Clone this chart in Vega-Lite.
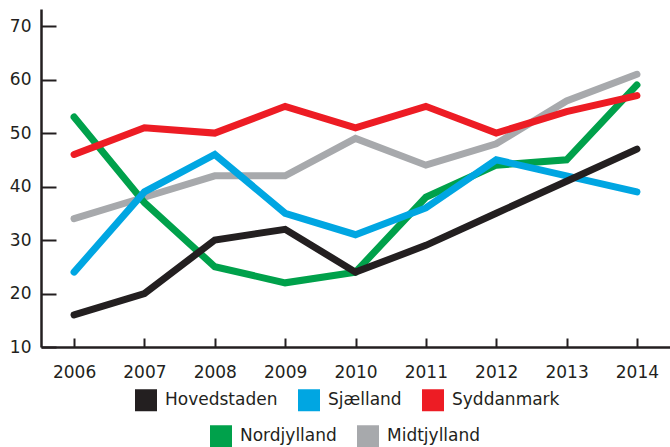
{
  "$schema": "https://vega.github.io/schema/vega-lite/v6.json",
  "width": 629,
  "height": 338,
  "autosize": "none",
  "padding": {"left": 41, "top": 9, "right": 0, "bottom": 100},
  "background": "white",
  "config": {
    "view": {"stroke": null},
    "font": "DejaVu Sans",
    "axis": {
      "title": null,
      "grid": false,
      "domainColor": "#231f20",
      "domainWidth": 2.5,
      "tickColor": "#231f20",
      "tickWidth": 2,
      "labelFontSize": 17,
      "labelColor": "#231f20",
      "labelFont": "DejaVu Sans"
    },
    "legend": {
      "orient": "none",
      "direction": "horizontal",
      "title": null,
      "padding": 0,
      "symbolType": "square",
      "symbolSize": 121,
      "symbolStrokeWidth": 11,
      "labelFontSize": 17,
      "labelFont": "DejaVu Sans",
      "labelColor": "#231f20",
      "labelOffset": 8,
      "columnPadding": 3
    }
  },
  "data": {
    "values": [
      {"year": "2006", "region": "Midtjylland", "value": 34},
      {"year": "2007", "region": "Midtjylland", "value": 38},
      {"year": "2008", "region": "Midtjylland", "value": 42},
      {"year": "2009", "region": "Midtjylland", "value": 42},
      {"year": "2010", "region": "Midtjylland", "value": 49},
      {"year": "2011", "region": "Midtjylland", "value": 44},
      {"year": "2012", "region": "Midtjylland", "value": 48},
      {"year": "2013", "region": "Midtjylland", "value": 56},
      {"year": "2014", "region": "Midtjylland", "value": 61},
      {"year": "2006", "region": "Nordjylland", "value": 53},
      {"year": "2007", "region": "Nordjylland", "value": 37},
      {"year": "2008", "region": "Nordjylland", "value": 25},
      {"year": "2009", "region": "Nordjylland", "value": 22},
      {"year": "2010", "region": "Nordjylland", "value": 24},
      {"year": "2011", "region": "Nordjylland", "value": 38},
      {"year": "2012", "region": "Nordjylland", "value": 44},
      {"year": "2013", "region": "Nordjylland", "value": 45},
      {"year": "2014", "region": "Nordjylland", "value": 59},
      {"year": "2006", "region": "Sjælland", "value": 24},
      {"year": "2007", "region": "Sjælland", "value": 39},
      {"year": "2008", "region": "Sjælland", "value": 46},
      {"year": "2009", "region": "Sjælland", "value": 35},
      {"year": "2010", "region": "Sjælland", "value": 31},
      {"year": "2011", "region": "Sjælland", "value": 36},
      {"year": "2012", "region": "Sjælland", "value": 45},
      {"year": "2013", "region": "Sjælland", "value": 42},
      {"year": "2014", "region": "Sjælland", "value": 39},
      {"year": "2006", "region": "Syddanmark", "value": 46},
      {"year": "2007", "region": "Syddanmark", "value": 51},
      {"year": "2008", "region": "Syddanmark", "value": 50},
      {"year": "2009", "region": "Syddanmark", "value": 55},
      {"year": "2010", "region": "Syddanmark", "value": 51},
      {"year": "2011", "region": "Syddanmark", "value": 55},
      {"year": "2012", "region": "Syddanmark", "value": 50},
      {"year": "2013", "region": "Syddanmark", "value": 54},
      {"year": "2014", "region": "Syddanmark", "value": 57},
      {"year": "2006", "region": "Hovedstaden", "value": 16},
      {"year": "2007", "region": "Hovedstaden", "value": 20},
      {"year": "2008", "region": "Hovedstaden", "value": 30},
      {"year": "2009", "region": "Hovedstaden", "value": 32},
      {"year": "2010", "region": "Hovedstaden", "value": 24},
      {"year": "2011", "region": "Hovedstaden", "value": 29},
      {"year": "2012", "region": "Hovedstaden", "value": 35},
      {"year": "2013", "region": "Hovedstaden", "value": 41},
      {"year": "2014", "region": "Hovedstaden", "value": 47}
    ]
  },
  "encoding": {
    "x": {
      "field": "year",
      "type": "ordinal",
      "scale": {"type": "point", "padding": 0.47},
      "axis": {"labelAngle": 0, "tickSize": -9, "labelPadding": 26}
    },
    "y": {
      "field": "value",
      "type": "quantitative",
      "scale": {"domain": [10, 73.2], "nice": false, "zero": false},
      "axis": {"values": [10, 20, 30, 40, 50, 60, 70], "tickSize": -15, "labelPadding": 25}
    }
  },
  "layer": [
    {
      "transform": [{"filter": "datum.region === 'Nordjylland' || datum.region === 'Midtjylland'"}],
      "mark": {"type": "line", "strokeWidth": 7, "strokeCap": "round", "strokeJoin": "miter"},
      "encoding": {
        "color": {
          "field": "region",
          "type": "nominal",
          "scale": {"domain": ["Nordjylland", "Midtjylland"], "range": ["#00a14b", "#a7a9ac"]},
          "legend": {"legendX": 169, "legendY": 416}
        }
      }
    },
    {
      "transform": [{"filter": "datum.region !== 'Nordjylland' && datum.region !== 'Midtjylland'"}],
      "mark": {"type": "line", "strokeWidth": 7, "strokeCap": "round", "strokeJoin": "miter"},
      "encoding": {
        "color": {
          "field": "region",
          "type": "nominal",
          "scale": {"domain": ["Hovedstaden", "Sjælland", "Syddanmark"], "range": ["#231f20", "#00a6e2", "#ed1c24"]},
          "legend": {"legendX": 94, "legendY": 380}
        }
      }
    }
  ],
  "resolve": {"scale": {"color": "independent"}, "legend": {"color": "independent"}}
}
